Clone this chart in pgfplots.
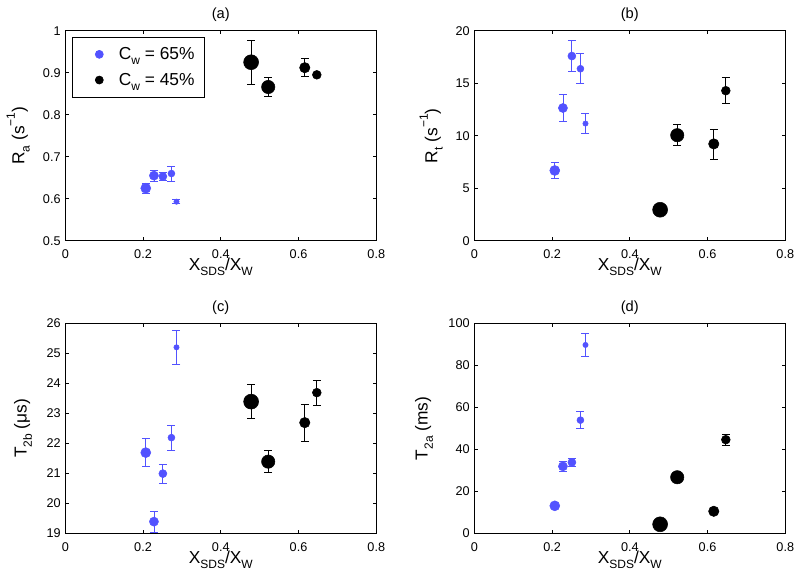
\documentclass[border=0pt]{standalone}
\usepackage{pgfplots}
\pgfplotsset{compat=1.18}
\usepackage{pgfplotstable}
\usepackage{fontspec}
\setmainfont{Liberation Sans}
\definecolor{mblue}{RGB}{82,82,255}
\newcommand\sbs[1]{\raisebox{-0.3em}{\fontsize{9}{9}\selectfont #1}}
\newcommand\sps[1]{\raisebox{0.55em}{\fontsize{9}{9}\selectfont #1}}
\newcommand\lbl{\fontsize{13}{14}\selectfont}
\newcommand\tck{\fontsize{9.5}{11}\selectfont}
\newcommand\ttl{\fontsize{11}{13}\selectfont}

% columns: x y err size(pt)
\pgfplotstableread{
x y e s
0.207 0.625 0.012 3.75
0.228 0.655 0.013 3.4
0.251 0.653 0.009 3.0
0.273 0.660 0.018 2.6
0.286 0.593 0.005 2.0
}\aBlue
\pgfplotstableread{
x y e s
0.478 0.925 0.053 5.6
0.522 0.866 0.023 5.0
0.616 0.912 0.021 3.9
0.647 0.895 0.000 3.3
}\aBlack
\pgfplotstableread{
x y e s
0.207 6.69 0.73 3.75
0.228 12.64 1.27 3.4
0.251 17.59 1.50 3.0
0.273 16.38 1.44 2.6
0.286 11.16 0.97 2.0
}\bBlue
\pgfplotstableread{
x y e s
0.478 2.95 0.00 5.6
0.522 10.05 1.01 5.0
0.616 9.22 1.43 3.9
0.647 14.29 1.24 3.3
}\bBlack
\pgfplotstableread{
x y e s
0.207 21.69 0.46 3.75
0.228 19.39 0.35 3.4
0.251 20.99 0.32 3.0
0.273 22.19 0.41 2.6
0.286 25.20 0.56 2.0
}\cBlue
\pgfplotstableread{
x y e s
0.478 23.39 0.57 5.6
0.522 21.39 0.36 5.0
0.616 22.69 0.61 3.9
0.647 23.69 0.41 3.3
}\cBlack
\pgfplotstableread{
x y e s
0.207 13.1 0.0 3.75
0.228 31.9 2.3 3.4
0.251 33.8 1.8 3.0
0.273 53.9 4.1 2.6
0.286 89.7 5.4 2.0
}\dBlue
\pgfplotstableread{
x y e s
0.478 4.3 0.0 5.6
0.522 26.7 0.0 5.0
0.616 10.5 0.0 3.9
0.647 44.6 2.7 3.3
}\dBlack

\pgfplotsset{
  panel/.style={
    scale only axis, width=233.25pt, height=157.5pt,
    anchor=south west,
    xmin=0, xmax=0.8,
    xtick={0,0.2,0.4,0.6,0.8},
    xticklabels={0,0.2,0.4,0.6,0.8},
    tick align=inside, tick pos=both,
    major tick length=2.5pt,
    axis line style={line width=0.55pt, black},
    every tick/.style={black, line width=0.5pt},
    /pgf/number format/assume math mode=true,
    tick label style={font=\tck},
    xticklabel style={anchor=base, yshift=-13.7pt},
    xlabel={X\sbs{SDS}/X\sbs{W}},
    xlabel style={font=\lbl, at={(axis description cs:0.5,-0.143)}, anchor=base},
    every axis title shift=0pt,
    title style={font=\ttl, at={(axis description cs:0.5,1.058)}, anchor=base, yshift=0pt},
    ylabel style={font=\lbl, anchor=base},
    clip=true,
  },
  pts/.style={scatter, only marks, mark=*,
    scatter/use mapped color={draw=#1, fill=#1},
    visualization depends on={\thisrow{s} \as \msz},
    scatter/@pre marker code/.append style={/tikz/mark size=\msz},
    error bars/.cd, y dir=both, y explicit,
    error mark=-,
    error bar style={#1, line width=0.6pt},
    error mark options={rotate=90, #1, mark size=3pt, line width=0.6pt}},
}

\begin{document}
\begin{tikzpicture}
\useasboundingbox (0pt,0pt) rectangle (600pt,435.75pt);

% (a)
\begin{axis}[panel, at={(48.98pt,255.2pt)},
  ymin=0.5, ymax=1, ytick={0.5,0.6,0.7,0.8,0.9,1},
  yticklabels={0.5,0.6,0.7,0.8,0.9,1},
  title={(a)},
  ylabel={R\sbs{a} (s\sps{−1})},
  ylabel style={at={(axis description cs:-0.1318,0.5)}},
  legend style={at={(axis description cs:0.0225,0.971)}, anchor=north west,
    draw=black, line width=0.5pt, font=\lbl, inner xsep=5.5pt, inner ysep=5.6pt,
    row sep=4.7pt, cells={anchor=west}},
  legend cell align=left,
  legend image code/.code={\path[draw=none, fill=none] (0pt,0pt) -- (27.2pt,0pt); \fill (14.5pt,0pt) circle (3pt);},
]
\addlegendimage{mblue}
\addlegendentry{C\sbs{w} = 65\%}
\addlegendimage{black}
\addlegendentry{C\sbs{w} = 45\%}
\addplot[forget plot, pts=mblue] table[x=x, y=y, y error=e, meta=y] \aBlue;
\addplot[forget plot, pts=black] table[x=x, y=y, y error=e, meta=y] \aBlack;
\end{axis}

% (b)
\begin{axis}[panel, at={(355.73pt,255.2pt)},
  ymin=0, ymax=20, ytick={0,5,10,15,20},
  title={(b)},
  ylabel={R\sbs{t} (s\sps{−1})},
  ylabel style={at={(axis description cs:-0.119,0.5)}},
]
\addplot[pts=mblue] table[x=x, y=y, y error=e, meta=y] \bBlue;
\addplot[pts=black] table[x=x, y=y, y error=e, meta=y] \bBlack;
\end{axis}

% (c)
\begin{axis}[panel, at={(48.98pt,35.75pt)},
  ymin=19, ymax=26, ytick={19,20,21,22,23,24,25,26},
  title={(c)},
  ylabel={T\sbs{2b} (μs)},
  ylabel style={at={(axis description cs:-0.124,0.5)}},
]
\addplot[pts=mblue] table[x=x, y=y, y error=e, meta=y] \cBlue;
\addplot[pts=black] table[x=x, y=y, y error=e, meta=y] \cBlack;
\end{axis}

% (d)
\begin{axis}[panel, at={(355.73pt,35.75pt)},
  ymin=0, ymax=100, ytick={0,20,40,60,80,100},
  title={(d)},
  ylabel={T\sbs{2a} (ms)},
  ylabel style={at={(axis description cs:-0.150,0.5)}},
]
\addplot[pts=mblue] table[x=x, y=y, y error=e, meta=y] \dBlue;
\addplot[pts=black] table[x=x, y=y, y error=e, meta=y] \dBlack;
\end{axis}
\end{tikzpicture}
\end{document}
